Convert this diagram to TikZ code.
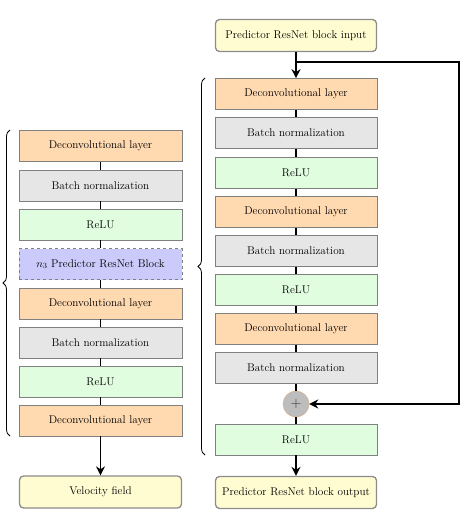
\documentclass[tikz,border=0pt]{standalone}
\usetikzlibrary{arrows.meta,decorations.pathreplacing}
\definecolor{deconv}{HTML}{FFD9B0}
\definecolor{bnorm}{HTML}{E6E6E6}
\definecolor{relu}{HTML}{E0FDE0}
\definecolor{resblk}{HTML}{CBCBFB}
\definecolor{ioc}{HTML}{FFFCD2}
\definecolor{plusc}{HTML}{BDBDBD}
\definecolor{plusb}{HTML}{D9A87A}
\begin{document}
\begin{tikzpicture}[x=1pt,y=-1pt,
  layer/.style={draw=black!50, line width=0.6pt, minimum height=31pt, inner sep=0pt, font=\fontsize{11.2}{13}\selectfont},
  lw/.style={layer, minimum width=163pt},
  rw/.style={layer, minimum width=162pt},
  dc/.style={fill=deconv},
  bn/.style={fill=bnorm},
  rl/.style={fill=relu},
  rb/.style={fill=resblk, dashed},
  io/.style={draw=black!45, line width=1.3pt, fill=ioc, rounded corners=4pt, minimum height=32pt, inner sep=0pt, font=\fontsize{11.2}{13}\selectfont},
  conn/.style={line width=1.8pt},
  arr/.style={line width=1.8pt, -{Stealth[length=9pt,width=9pt]}},
  brc/.style={decorate, decoration={brace, amplitude=7pt}, line width=0.8pt}
]
\useasboundingbox (0,0) rectangle (465,513);
% left column
\node[lw,dc] (l1) at (100.5,146) {Deconvolutional layer};
\node[lw,bn] (l2) at (100.5,185.5) {Batch normalization};
\node[lw,rl] (l3) at (100.5,224.5) {ReLU};
\node[lw,rb] (l4) at (100.5,264) {$n_3$ Predictor ResNet Block};
\node[lw,dc] (l5) at (100.5,303.5) {Deconvolutional layer};
\node[lw,bn] (l6) at (100.5,342.5) {Batch normalization};
\node[lw,rl] (l7) at (100.5,381.5) {ReLU};
\node[lw,dc] (l8) at (100.5,420.5) {Deconvolutional layer};
\node[io, minimum width=162pt] (vf) at (100.5,492) {Velocity field};
\foreach \a/\b in {l1/l2,l2/l3,l3/l4,l4/l5,l5/l6,l6/l7,l7/l8}
  \draw[conn] (\a) -- (\b);
\draw[arr] (l8) -- (vf);
% right column
\node[io, minimum width=161pt] (in) at (296,35.5) {Predictor ResNet block input};
\node[rw,dc] (r1) at (296,94) {Deconvolutional layer};
\node[rw,bn] (r2) at (296,133) {Batch normalization};
\node[rw,rl] (r3) at (296,173) {ReLU};
\node[rw,dc] (r4) at (296,212) {Deconvolutional layer};
\node[rw,bn] (r5) at (296,251) {Batch normalization};
\node[rw,rl] (r6) at (296,290) {ReLU};
\node[rw,dc] (r7) at (296,329) {Deconvolutional layer};
\node[rw,bn] (r8) at (296,368) {Batch normalization};
\node[circle, draw=plusb, fill=plusc, minimum size=26pt, inner sep=0pt, text=black!80, font=\fontsize{15}{15}\selectfont] (pl) at (296,404) {$+$};
\node[rw,rl] (r9) at (296,439.5) {ReLU};
\node[io, minimum width=161pt] (out) at (296,492.5) {Predictor ResNet block output};
\foreach \a/\b in {r1/r2,r2/r3,r3/r4,r4/r5,r5/r6,r6/r7,r7/r8,r8/pl,pl/r9}
  \draw[conn] (\a) -- (\b);
\draw[arr] (in) -- (r1);
\draw[arr] (r9) -- (out);
% skip connection
\coordinate (br) at (296,62);
\coordinate (c1) at (459,62);
\coordinate (c2) at (459,404);
\draw[arr] (br) -- (c1) -- (c2) -- (pl);
% braces
\draw[brc] (10,436) -- (10,130);
\draw[brc] (205,455) -- (205,78);
\end{tikzpicture}
\end{document}
